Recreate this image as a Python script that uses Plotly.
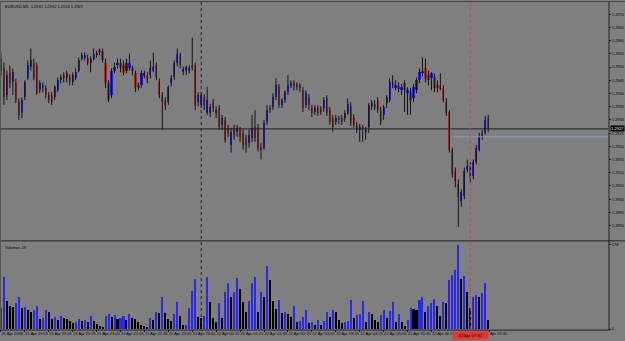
import plotly.graph_objects as go

# ---------------- data ----------------
title_text = "EURUSD,M5  1.2931 1.2932 1.2926 1.2927"
volume_label = "Volumes 19"

open_ = [
1.29536, 1.29495, 1.29394, 1.29476, 1.29442, 1.29439, 1.29367, 1.29326, 1.29386, 1.29457,
1.29499, 1.29517, 1.29506, 1.29412, 1.29431, 1.29420, 1.29394, 1.29394, 1.29386, 1.29412,
1.29450, 1.29469, 1.29457, 1.29461, 1.29442, 1.29457, 1.29487, 1.29532, 1.29536, 1.29536,
1.29517, 1.29532, 1.29544, 1.29566, 1.29562, 1.29517, 1.29439, 1.29394, 1.29487, 1.29506,
1.29517, 1.29506, 1.29487, 1.29495, 1.29495, 1.29476, 1.29431, 1.29431, 1.29469, 1.29469,
1.29469, 1.29487, 1.29506, 1.29442, 1.29394, 1.29375, 1.29367, 1.29439, 1.29461, 1.29514,
1.29544, 1.29480, 1.29487, 1.29487, 1.29506, 1.29506, 1.29367, 1.29356, 1.29386, 1.29326,
1.29326, 1.29367, 1.29326, 1.29345, 1.29281, 1.29300, 1.29270, 1.29206, 1.29270, 1.29255,
1.29262, 1.29251, 1.29232, 1.29214, 1.29232, 1.29274, 1.29274, 1.29199, 1.29195, 1.29292,
1.29345, 1.29349, 1.29386, 1.29424, 1.29356, 1.29375, 1.29405, 1.29427, 1.29439, 1.29435,
1.29431, 1.29412, 1.29356, 1.29386, 1.29345, 1.29330, 1.29345, 1.29341, 1.29345, 1.29382,
1.29337, 1.29307, 1.29292, 1.29307, 1.29307, 1.29307, 1.29326, 1.29352, 1.29311, 1.29281,
1.29262, 1.29270, 1.29255, 1.29274, 1.29352, 1.29360, 1.29375, 1.29337, 1.29319, 1.29364,
1.29375, 1.29439, 1.29420, 1.29427, 1.29412, 1.29439, 1.29401, 1.29405, 1.29382, 1.29412,
1.29450, 1.29476, 1.29495, 1.29469, 1.29457, 1.29461, 1.29431, 1.29427, 1.29420, 1.29367,
1.29330, 1.29187, 1.29105, 1.29056, 1.28992, 1.29011, 1.29112, 1.29124, 1.29086, 1.29142,
1.29187, 1.29251, 1.29251, 1.29307]

high = [
1.29555, 1.29517, 1.29487, 1.29506, 1.29495, 1.29457, 1.29382, 1.29386, 1.29450, 1.29525,
1.29570, 1.29532, 1.29517, 1.29450, 1.29442, 1.29431, 1.29405, 1.29405, 1.29431, 1.29461,
1.29472, 1.29480, 1.29487, 1.29472, 1.29480, 1.29495, 1.29536, 1.29555, 1.29555, 1.29547,
1.29540, 1.29570, 1.29562, 1.29570, 1.29570, 1.29532, 1.29450, 1.29495, 1.29517, 1.29532,
1.29532, 1.29525, 1.29532, 1.29551, 1.29506, 1.29487, 1.29442, 1.29487, 1.29487, 1.29480,
1.29525, 1.29555, 1.29517, 1.29457, 1.29405, 1.29386, 1.29431, 1.29469, 1.29525, 1.29570,
1.29555, 1.29502, 1.29506, 1.29506, 1.29611, 1.29517, 1.29405, 1.29405, 1.29397, 1.29424,
1.29360, 1.29379, 1.29352, 1.29356, 1.29319, 1.29311, 1.29281, 1.29270, 1.29281, 1.29281,
1.29274, 1.29262, 1.29244, 1.29262, 1.29319, 1.29337, 1.29285, 1.29214, 1.29300, 1.29356,
1.29356, 1.29401, 1.29457, 1.29435, 1.29382, 1.29412, 1.29469, 1.29450, 1.29450, 1.29442,
1.29439, 1.29424, 1.29412, 1.29397, 1.29356, 1.29356, 1.29356, 1.29352, 1.29386, 1.29394,
1.29349, 1.29319, 1.29319, 1.29315, 1.29319, 1.29337, 1.29382, 1.29367, 1.29322, 1.29292,
1.29285, 1.29281, 1.29274, 1.29364, 1.29375, 1.29375, 1.29386, 1.29349, 1.29356, 1.29394,
1.29457, 1.29469, 1.29450, 1.29442, 1.29435, 1.29450, 1.29424, 1.29420, 1.29435, 1.29461,
1.29495, 1.29536, 1.29532, 1.29487, 1.29480, 1.29476, 1.29450, 1.29476, 1.29431, 1.29382,
1.29337, 1.29195, 1.29120, 1.29075, 1.29037, 1.29120, 1.29150, 1.29139, 1.29150, 1.29206,
1.29251, 1.29262, 1.29315, 1.29319]

low = [
1.29469, 1.29356, 1.29375, 1.29420, 1.29394, 1.29364, 1.29300, 1.29307, 1.29375, 1.29450,
1.29487, 1.29450, 1.29394, 1.29401, 1.29405, 1.29382, 1.29364, 1.29356, 1.29375, 1.29405,
1.29439, 1.29442, 1.29442, 1.29431, 1.29431, 1.29450, 1.29480, 1.29525, 1.29525, 1.29506,
1.29480, 1.29525, 1.29536, 1.29544, 1.29517, 1.29420, 1.29367, 1.29382, 1.29476, 1.29495,
1.29480, 1.29469, 1.29476, 1.29487, 1.29469, 1.29405, 1.29412, 1.29420, 1.29457, 1.29439,
1.29457, 1.29480, 1.29450, 1.29382, 1.29262, 1.29337, 1.29356, 1.29427, 1.29450, 1.29502,
1.29495, 1.29469, 1.29469, 1.29476, 1.29487, 1.29337, 1.29352, 1.29345, 1.29337, 1.29319,
1.29311, 1.29330, 1.29307, 1.29262, 1.29262, 1.29214, 1.29236, 1.29176, 1.29225, 1.29236,
1.29217, 1.29187, 1.29176, 1.29195, 1.29217, 1.29217, 1.29180, 1.29150, 1.29187, 1.29281,
1.29326, 1.29337, 1.29375, 1.29345, 1.29345, 1.29364, 1.29394, 1.29420, 1.29412, 1.29412,
1.29405, 1.29330, 1.29345, 1.29337, 1.29311, 1.29319, 1.29315, 1.29319, 1.29330, 1.29315,
1.29281, 1.29255, 1.29281, 1.29285, 1.29281, 1.29292, 1.29319, 1.29277, 1.29270, 1.29251,
1.29217, 1.29217, 1.29225, 1.29251, 1.29337, 1.29337, 1.29326, 1.29281, 1.29300, 1.29345,
1.29367, 1.29420, 1.29412, 1.29405, 1.29394, 1.29330, 1.29319, 1.29319, 1.29367, 1.29401,
1.29439, 1.29465, 1.29442, 1.29431, 1.29412, 1.29405, 1.29405, 1.29412, 1.29367, 1.29315,
1.29176, 1.29082, 1.29045, 1.28895, 1.28970, 1.29000, 1.29101, 1.29064, 1.29075, 1.29131,
1.29180, 1.29225, 1.29244, 1.29255]

close = [
1.29487, 1.29386, 1.29469, 1.29439, 1.29480, 1.29375, 1.29319, 1.29375, 1.29442, 1.29506,
1.29525, 1.29457, 1.29401, 1.29439, 1.29420, 1.29394, 1.29375, 1.29367, 1.29424, 1.29450,
1.29461, 1.29457, 1.29476, 1.29450, 1.29469, 1.29480, 1.29525, 1.29544, 1.29547, 1.29514,
1.29532, 1.29551, 1.29555, 1.29555, 1.29525, 1.29439, 1.29375, 1.29487, 1.29499, 1.29517,
1.29495, 1.29476, 1.29514, 1.29517, 1.29487, 1.29424, 1.29420, 1.29476, 1.29476, 1.29450,
1.29495, 1.29499, 1.29461, 1.29394, 1.29367, 1.29356, 1.29424, 1.29457, 1.29514, 1.29551,
1.29506, 1.29491, 1.29499, 1.29495, 1.29499, 1.29356, 1.29394, 1.29394, 1.29356, 1.29375,
1.29349, 1.29345, 1.29337, 1.29274, 1.29307, 1.29225, 1.29251, 1.29255, 1.29244, 1.29270,
1.29236, 1.29206, 1.29206, 1.29244, 1.29270, 1.29232, 1.29195, 1.29187, 1.29289, 1.29337,
1.29337, 1.29386, 1.29431, 1.29356, 1.29375, 1.29405, 1.29431, 1.29439, 1.29427, 1.29424,
1.29420, 1.29345, 1.29401, 1.29356, 1.29326, 1.29345, 1.29326, 1.29330, 1.29375, 1.29326,
1.29292, 1.29274, 1.29307, 1.29300, 1.29292, 1.29326, 1.29360, 1.29289, 1.29281, 1.29262,
1.29274, 1.29266, 1.29262, 1.29356, 1.29364, 1.29349, 1.29337, 1.29292, 1.29349, 1.29386,
1.29442, 1.29431, 1.29431, 1.29420, 1.29424, 1.29412, 1.29412, 1.29375, 1.29424, 1.29450,
1.29480, 1.29487, 1.29457, 1.29450, 1.29476, 1.29420, 1.29420, 1.29420, 1.29375, 1.29326,
1.29187, 1.29094, 1.29067, 1.29007, 1.29026, 1.29105, 1.29124, 1.29075, 1.29139, 1.29195,
1.29236, 1.29236, 1.29300, 1.29266]

volume = [
44, 111, 59, 48, 46, 55, 67, 44, 46, 40, 36, 40, 48, 21, 23, 40, 36, 21, 25, 19,
27, 23, 21, 17, 13, 15, 21, 17, 19, 15, 27, 17, 11, 6, 4, 27, 32, 25, 29, 21,
23, 27, 19, 32, 23, 22, 15, 8, 6, 4, 23, 19, 36, 34, 69, 34, 21, 17, 32, 57,
27, 8, 9, 44, 80, 105, 25,
23, 27, 111, 57, 23, 15, 55, 23, 78, 97, 69, 78, 109, 84, 57, 36, 59, 97, 111, 36,
78, 67, 134, 103, 59, 42, 61, 34, 36, 32, 25, 48, 15, 17, 25, 40, 13, 15, 8, 19,
8, 17, 36, 25, 40, 36, 19, 13, 15, 17, 61, 23, 29, 32, 59, 15, 36, 32, 19, 15,
29, 40, 23, 38, 57, 15, 32, 15, 6, 19, 44, 43, 40, 61,
69, 36, 48, 55, 63, 50, 27, 57, 56, 103, 115, 126, 178, 105, 113, 78, 44, 69, 73, 69,
76, 97, 19]

# time-axis labels (the 07:05 label is hidden behind the red time box,
# the 07:45 label is partly hidden and shows as "Apr 07:45")
time_tick_bars = [0, 8, 16, 24, 32, 40, 48, 56, 64, 72, 80, 88, 96, 104, 112, 120,
                  128, 136, 144, 163.4]
time_labels = ["21 Apr 2008", "21 Apr 19:05", "21 Apr 19:45", "21 Apr 20:25",
               "21 Apr 21:05", "21 Apr 21:45", "21 Apr 22:25", "21 Apr 23:05",
               "21 Apr 23:45", "22 Apr 00:25", "22 Apr 01:05", "22 Apr 01:45",
               "22 Apr 02:25", "22 Apr 03:05", "22 Apr 03:45", "22 Apr 04:25",
               "22 Apr 05:05", "22 Apr 05:45", "22 Apr 06:25", "Apr 07:45"]

price_ticks = [1.2890, 1.2895, 1.2900, 1.2905, 1.2910, 1.2915, 1.2920, 1.2925, 1.2930,
               1.2935, 1.2940, 1.2945, 1.2950, 1.2955, 1.2960, 1.2965, 1.2970, 1.2975]
volume_max_label = 178

bid_price = 1.29266
bid_text = "1.2927"
blue_line_price = 1.29236
blue_line_start_bar = 151
day_separator_bar = 67
red_vline_bar = 157
red_vline_label = "22 Apr 07:30"

assert len(open_) == len(high) == len(low) == len(close) == len(volume) == 164

# ---------------- style ----------------
BG = "#7f7f7f"
UP = "#2222cc"
DOWN = "#a0352e"
WICK = "#141414"
VOL_UP = "#2828ee"
VOL_DN = "#000000"
FONT = "Liberation Sans"

W, H = 625, 341
plot_right = 608 / W
main_bottom = 1 - 241 / H
vol_bottom = 1 - 331 / H
vol_top = 1 - 244 / H
x_range = [-0.3, 203.05]

idx = list(range(len(close)))
wick_x, wick_y = [], []
for i, (h, l) in enumerate(zip(high, low)):
    wick_x += [i, i, None]
    wick_y += [l, h, None]
body_base = [min(o, c) for o, c in zip(open_, close)]
body_len = [max(abs(c - o), 0.00003) for o, c in zip(open_, close)]
body_col = [UP if c > o else DOWN for o, c in zip(open_, close)]
vol_col = [VOL_UP if (i == 0 or volume[i] > volume[i - 1]) else VOL_DN
           for i in range(len(volume))]

fig = go.Figure()
fig.add_trace(go.Scatter(x=wick_x, y=wick_y, mode="lines",
                         line=dict(color=WICK, width=1), hoverinfo="skip",
                         xaxis="x", yaxis="y", showlegend=False))
fig.add_trace(go.Bar(x=idx, y=body_len, base=body_base, width=0.72,
                     marker=dict(color=body_col, line=dict(width=0)),
                     xaxis="x", yaxis="y", showlegend=False))
fig.add_trace(go.Bar(x=idx, y=volume, width=0.68,
                     marker=dict(color=vol_col, line=dict(width=0)),
                     xaxis="x2", yaxis="y2", showlegend=False))

tickfont = dict(family=FONT, size=4, color="black")

shapes = [
    dict(type="line", xref="paper", x0=0, x1=plot_right, yref="y",
         y0=bid_price, y1=bid_price, line=dict(color="#1e1e1e", width=1)),
    dict(type="line", xref="x", x0=blue_line_start_bar, x1=x_range[1], yref="y",
         y0=blue_line_price, y1=blue_line_price, line=dict(color="#7c98c8", width=1)),
    dict(type="line", xref="x", x0=day_separator_bar, x1=day_separator_bar,
         yref="paper", y0=vol_bottom, y1=1,
         line=dict(color="#222222", width=1, dash="dot")),
    dict(type="line", xref="x", x0=red_vline_bar, x1=red_vline_bar,
         yref="paper", y0=vol_bottom, y1=1,
         line=dict(color="#b05050", width=1, dash="dot")),
    dict(type="line", xref="paper", yref="paper", x0=0, x1=1,
         y0=1 - 242 / H, y1=1 - 242 / H, line=dict(color="#222222", width=1)),
    dict(type="line", xref="paper", yref="paper", x0=0, x1=609 / W,
         y0=1 - 332 / H, y1=1 - 332 / H, line=dict(color="#222222", width=1)),
    dict(type="line", xref="paper", yref="paper", x0=609 / W, x1=609 / W,
         y0=1 - 332 / H, y1=1, line=dict(color="#222222", width=1)),
    dict(type="line", xref="paper", yref="paper", x0=0, x1=1,
         y0=1 - 0.5 / H, y1=1 - 0.5 / H, line=dict(color="#444444", width=1)),
    dict(type="line", xref="paper", yref="paper", x0=0.5 / W, x1=0.5 / W,
         y0=1 - 332 / H, y1=1, line=dict(color="#555555", width=1)),
]

annotations = [
    dict(text=title_text, xref="paper", yref="paper", x=3 / W, y=1 - 1 / H,
         xanchor="left", yanchor="top", showarrow=False, font=tickfont),
    dict(text=volume_label, xref="paper", yref="paper", x=3 / W, y=1 - 244 / H,
         xanchor="left", yanchor="top", showarrow=False, font=tickfont),
    dict(text=bid_text, xref="paper", yref="y", x=609.5 / W, y=bid_price,
         xanchor="left", yanchor="middle", showarrow=False, bgcolor="black",
         borderpad=0, font=dict(family=FONT, size=4, color="white")),
    dict(text=red_vline_label, xref="x2", yref="paper", x=red_vline_bar, y=1 - 333 / H,
         xanchor="center", yanchor="top", showarrow=False, bgcolor="#e8342e",
         borderpad=1, width=33, font=tickfont),
]

fig.update_layout(
    width=W, height=H, margin=dict(l=0, r=0, t=0, b=0),
    paper_bgcolor=BG, plot_bgcolor=BG, barmode="overlay", bargap=0,
    showlegend=False, font=dict(family=FONT, size=4, color="black"),
    xaxis=dict(domain=[0, plot_right], range=x_range, anchor="y",
               showticklabels=False, showgrid=False, zeroline=False, ticks="",
               showline=False, fixedrange=True),
    yaxis=dict(domain=[main_bottom, 1], range=[1.28846, 1.2975], side="right",
               anchor="x", tickvals=price_ticks,
               ticktext=[f"{v:.4f}" for v in price_ticks],
               ticks="outside", ticklen=2, tickcolor="#222222", tickfont=tickfont,
               showgrid=False, zeroline=False, showline=False),
    xaxis2=dict(domain=[0, plot_right], range=x_range, anchor="y2",
                tickvals=time_tick_bars, ticktext=time_labels,
                ticklabelposition="outside right", ticks="outside", ticklen=2,
                tickcolor="#222222", tickfont=tickfont, tickangle=0,
                showgrid=False, zeroline=False, showline=False),
    yaxis2=dict(domain=[vol_bottom, vol_top], range=[0, 182], side="right",
                anchor="x2", tickvals=[0, volume_max_label],
                ticktext=["0", str(volume_max_label)], ticks="outside", ticklen=2,
                tickcolor="#222222", tickfont=tickfont,
                showgrid=False, zeroline=False, showline=False),
    shapes=shapes, annotations=annotations,
)

fig.write_html("out.html")
